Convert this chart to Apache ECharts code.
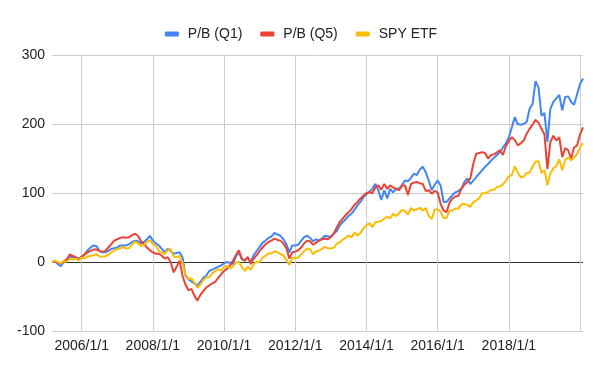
<!DOCTYPE html>
<html><head><meta charset="utf-8">
<script src="https://cdn.jsdelivr.net/npm/echarts@6/dist/echarts.min.js"></script>
<style>html,body{margin:0;padding:0;background:#fff}#c{width:602px;height:372px}</style>
</head><body><div id="c"></div>
<script>
const seriesNames = ['P/B (Q1)', 'P/B (Q5)', 'SPY ETF'];
const tickLabels = ['2006/1/1','2008/1/1','2010/1/1','2012/1/1','2014/1/1','2016/1/1','2018/1/1'];
const gridDates = tickLabels.concat(['2020/1/1']);

// 180 monthly points; axis categories run 2005/3/1 ... 2020/2/1
const categories = [];
for (let k = 0; k < 180; k++) {
  const m = 2 + k;
  categories.push((2005 + Math.floor(m / 12)) + '/' + (m % 12 + 1) + '/1');
}

const q1 = [
  0, 1, -3, -6, 0, 4, 8, 7, 6, 5, 7, 11,
  17, 21, 24, 23, 16, 14, 14, 16, 19, 20, 21, 24,
  24, 24, 26, 29, 31, 30, 27, 29, 33, 38, 31, 27,
  24, 19, 14, 19, 16, 12, 13, 14, 7, -20, -25, -28,
  -31, -34, -29, -23, -20, -13, -11, -9, -7, -5, -2, 0,
  -1, -3, 8, 14, 4, 2, 7, 0, 10, 16, 22, 28,
  31, 35, 37, 42, 40, 38, 33, 26, 14, 24, 24, 25,
  31, 36, 38, 35, 30, 33, 31, 34, 38, 37, 37, 41,
  45, 53, 58, 62, 67, 70, 76, 82, 87, 94, 98, 102,
  106, 113, 104, 90, 104, 92, 106, 101, 106, 106, 112, 118,
  117, 122, 128, 126, 134, 138, 130, 118, 104, 112, 118, 111,
  87, 87, 92, 97, 101, 103, 106, 116, 121, 113, 118, 123,
  128, 133, 138, 142, 147, 151, 155, 159, 166, 172, 181, 195,
  210, 200, 199, 200, 203, 222, 229, 262, 253, 212, 216, 174,
  222, 232, 237, 242, 220, 239, 240, 232, 228, 243, 258, 266
];
const q5 = [
  0, 1, -1, -2, 1, 4, 11, 9, 7, 3, 8, 11,
  14, 16, 18, 18, 16, 15, 16, 21, 26, 31, 33, 35,
  36, 35, 36, 39, 41, 38, 30, 26, 21, 17, 14, 12,
  12, 9, 5, 7, 0, -15, -7, 2, -20, -33, -41, -39,
  -49, -56, -48, -42, -37, -34, -31, -29, -23, -18, -13, -10,
  -5, 2, 10, 17, 5, 2, 7, -3, 5, 10, 16, 21,
  26, 29, 31, 34, 32, 31, 27, 20, 5, 14, 15, 17,
  21, 27, 31, 30, 25, 28, 31, 33, 34, 33, 36, 41,
  50, 58, 63, 68, 72, 77, 83, 87, 92, 96, 100, 101,
  100, 108, 111, 105, 113, 106, 111, 108, 106, 104, 111, 111,
  97, 113, 115, 116, 114, 113, 103, 104, 99, 103, 101, 84,
  75, 72, 86, 92, 95, 96, 106, 112, 116, 121, 142, 157,
  158, 159, 158, 150, 155, 156, 159, 162, 155, 168, 175, 181,
  177, 169, 172, 176, 186, 193, 199, 206, 202, 193, 185, 135,
  174, 183, 176, 181, 152, 165, 162, 150, 166, 169, 185, 195
];
const spy = [
  0, 2.0, -0.1, -2.0, 1.1, 0.7, 4.6, 3.4, 4.5, 2.5, 6.2, 5.3,
  8.3, 8.5, 9.8, 11.2, 7.8, 7.7, 8.2, 10.7, 13.5, 17.1, 18.9, 19.8,
  22.0, 19.2, 20.0, 25.4, 29.7, 27.3, 23.2, 24.8, 29.1, 31.2, 25.8, 23.7,
  16.3, 13.2, 11.6, 17.0, 18.8, 8.3, 7.0, 8.9, -1.8, -18.1, -24.5, -23.7,
  -29.9, -37.5, -32.7, -26.4, -22.3, -22.2, -16.4, -13.3, -10.7, -12.3, -7.0, -5.8,
  -9.1, -6.4, -1.0, 0.5, -7.5, -12.9, -7.0, -11.2, -3.4, 0.3, 0.0, 6.4,
  8.9, 12.7, 12.2, 15.6, 14.2, 11.6, 9.4, 3.1, -4.3, 6.2, 5.7, 6.2,
  11.0, 15.9, 19.1, 18.4, 11.2, 15.2, 16.5, 19.0, 21.8, 19.6, 19.8, 20.5,
  26.6, 28.3, 32.6, 35.1, 38.3, 35.7, 42.8, 38.4, 42.2, 48.7, 53.1, 56.3,
  50.7, 57.7, 58.2, 59.3, 63.0, 65.6, 63.4, 69.8, 66.6, 70.6, 75.3, 73.9,
  68.7, 78.3, 74.6, 76.4, 78.6, 74.2, 78.1, 67.2, 62.1, 75.9, 76.6, 72.5,
  63.9, 63.8, 74.6, 74.6, 77.5, 77.3, 83.6, 83.9, 83.0, 79.9, 86.5, 89.1,
  92.5, 100.0, 99.4, 101.5, 104.3, 104.6, 108.8, 109.4, 112.5, 117.6, 124.0, 125.8,
  138.5, 129.8, 122.7, 123.8, 129.1, 129.5, 138.0, 145.5, 145.9, 128.9, 133.3, 111.4,
  128.3, 135.8, 139.0, 148.8, 132.9, 147.9, 151.6, 147.5, 151.3, 156.6, 165.9, 172.3
];

const font = '"Liberation Sans", Arial, sans-serif';
const chart = echarts.init(document.getElementById('c'), null, {renderer: 'canvas'});
const mkSeries = (name, data) => ({
  name, type: 'line', data, symbol: 'none', showSymbol: false,
  lineStyle: {width: 2}, emphasis: {disabled: true}
});
chart.setOption({
  animation: false,
  color: ['#4285F4', '#EA4335', '#FBBC04'],
  textStyle: {fontFamily: font},
  legend: {
    top: 22, left: 'center', itemWidth: 14, itemHeight: 5, itemGap: 18, icon: 'roundRect',
    data: seriesNames,
    textStyle: {fontSize: 14, color: '#222', fontFamily: font, padding: [0, 0, 0, 4]}
  },
  grid: {left: 52, right: 19, top: 55, bottom: 41},
  xAxis: {
    type: 'category', data: categories, boundaryGap: false,
    axisLine: {show: false}, axisTick: {show: false},
    axisLabel: {interval: (i, v) => tickLabels.includes(v), color: '#222', fontSize: 14, margin: 8, fontFamily: font},
    splitLine: {show: true, interval: (i, v) => gridDates.includes(v), lineStyle: {color: '#cccccc', width: 1}}
  },
  yAxis: {
    type: 'value', min: -100, max: 300, interval: 100,
    axisLine: {show: false}, axisTick: {show: false},
    axisLabel: {color: '#222', fontSize: 14, margin: 7, fontFamily: font},
    splitLine: {lineStyle: {color: ['#cccccc', '#333333', '#cccccc', '#cccccc', '#cccccc'], width: 1}}
  },
  series: [mkSeries(seriesNames[0], q1), mkSeries(seriesNames[1], q5), mkSeries(seriesNames[2], spy)]
});
</script></body></html>
